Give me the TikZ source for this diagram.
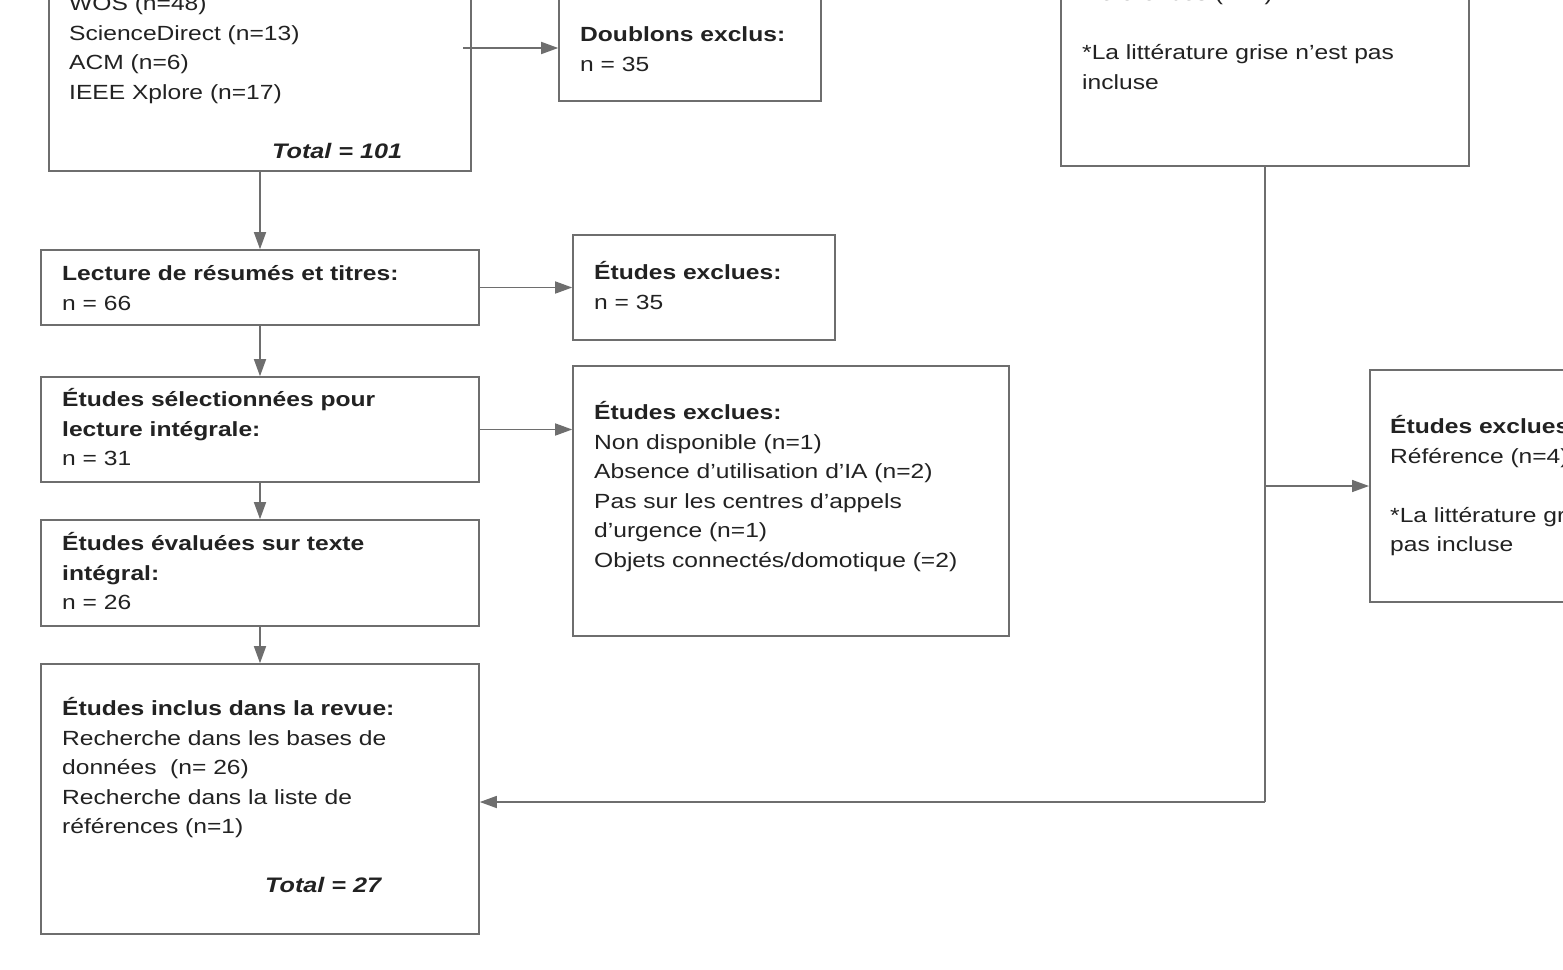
\documentclass[tikz,border=0pt]{standalone}
\usepackage{fontspec}
\setmainfont[FakeStretch=1.2]{Liberation Sans}
\usetikzlibrary{arrows.meta}
\definecolor{ln}{HTML}{6E6E6E}
\definecolor{tx}{HTML}{222222}
\begin{document}
\begin{tikzpicture}[x=1pt,y=-1pt,
  box/.style={draw=ln,line width=1.6pt,inner sep=0pt},
  txt/.style={anchor=north west,inner sep=0pt,align=left,text=tx,font=\fontsize{20.5}{29.5}\selectfont},
  arr/.style={draw=ln,line width=1.5pt,-{Triangle[length=17pt,width=12pt]}},
  ln/.style={draw=ln,line width=1.5pt}]
\useasboundingbox (0,0) rectangle (1563,969);
\clip (0,0) rectangle (1563,969);
\fill[white] (0,0) rectangle (1563,969);
% boxes
\node[box,minimum width=422pt,minimum height=231pt] (src) at (260,55.5) {};
\node[box,minimum width=262pt,minimum height=131pt] (dbl) at (690,35.5) {};
\node[box,minimum width=408pt,minimum height=246pt] (oth) at (1265,43) {};
\node[box,minimum width=438pt,minimum height=75pt] (lec) at (260,287.5) {};
\node[box,minimum width=262pt,minimum height=105pt] (ex1) at (704,287.5) {};
\node[box,minimum width=438pt,minimum height=105pt] (sel) at (260,429.5) {};
\node[box,minimum width=436pt,minimum height=270pt] (ex2) at (791,501) {};
\node[box,minimum width=438pt,minimum height=106pt] (eva) at (260,573) {};
\node[box,minimum width=438pt,minimum height=270pt] (inc) at (260,799) {};
\node[box,minimum width=300pt,minimum height=232pt,anchor=west] (ex3) at (1369,486) {};
% texts
\node[txt] (t1) at (69,-10) {\strut WOS (n=48)\\ScienceDirect (n=13)\\ACM (n=6)\\IEEE Xplore (n=17)};
\node[txt,font=\fontsize{21}{29.5}\selectfont\bfseries\itshape] (t1b) at (272,138) {\strut Total = 101};
\node[txt] (t2) at (580,21) {\strut\textbf{Doublons exclus:}\\n = 35};
\node[txt] (t3) at (1082,-20) {\strut Références (n=1)\\ \\{}*La littérature grise n’est pas\\incluse};
\node[txt] (t4) at (62,260) {\strut\textbf{Lecture de résumés et titres:}\\n = 66};
\node[txt] (t5) at (594,259) {\strut\textbf{Études exclues:}\\n = 35};
\node[txt] (t6) at (62,386) {\strut\textbf{Études sélectionnées pour}\\\textbf{lecture intégrale:}\\n = 31};
\node[txt] (t7) at (594,399) {\strut\textbf{Études exclues:}\\Non disponible (n=1)\\Absence d’utilisation d’IA (n=2)\\Pas sur les centres d’appels\\d’urgence (n=1)\\Objets connectés/domotique (=2)};
\node[txt] (t8) at (62,530) {\strut\textbf{Études évaluées sur texte}\\\textbf{intégral:}\\n = 26};
\node[txt] (t9) at (62,695) {\strut\textbf{Études inclus dans la revue:}\\Recherche dans les bases de\\données\ \ (n= 26)\\Recherche dans la liste de\\références (n=1)};
\node[txt,font=\fontsize{21}{29.5}\selectfont\bfseries\itshape] (t9b) at (265,872) {\strut Total = 27};
\node[txt] (t10) at (1390,413) {\strut\textbf{Études exclues:}\\Référence (n=4)\\ \\{}*La littérature grise n’est\\pas incluse};
% connectors
\coordinate (d1) at (463,48);
\draw[arr] (d1) -- (dbl.west |- d1);
\draw[arr] (src.south) -- (lec.north);
\draw[arr] (lec.east) -- (ex1.west);
\draw[arr] (lec.south) -- (sel.north);
\draw[arr] (sel.east) -- (ex2.west |- sel.east);
\draw[arr] (sel.south) -- (eva.north);
\draw[arr] (eva.south) -- (inc.north);
\coordinate (R1) at (1265,802); \coordinate (R2) at (1265,486);
\draw[ln] (oth.south) -- (R1);
\draw[arr] (R1) -- (inc.east |- R1);
\draw[arr] (R2) -- (ex3.west);
\end{tikzpicture}
\end{document}
